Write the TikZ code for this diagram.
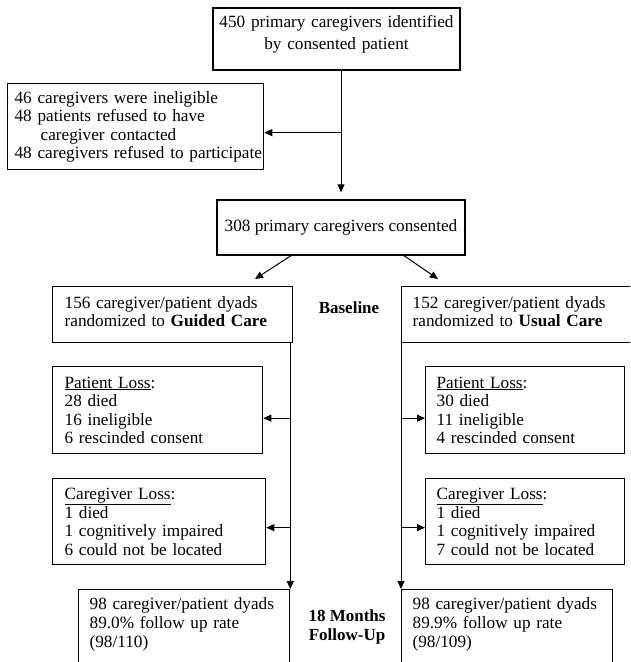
\documentclass[tikz,border=0pt]{standalone}
\usepackage{fontspec}
\setmainfont{Liberation Serif}
\usetikzlibrary{arrows.meta}

\begin{document}
\begin{tikzpicture}[x=1pt, y=-1pt,
	box/.style={draw, line width=1.3pt, align=left, inner ysep=0pt, font=\fontsize{17.2}{18.5}\selectfont},
	phase/.style={align=center, font=\fontsize{17}{19}\selectfont\bfseries},
	arr/.style={line width=1pt, -{Triangle[length=8pt, width=7pt]}}]
	\useasboundingbox (0,0) rectangle (630,662);
	\clip (0,0) rectangle (630,662);
	\node[box, align=center, inner xsep=0pt, text width=247pt, minimum height=62pt, text depth=36pt, font=\fontsize{17.2}{22}\selectfont] (ident) at (336.5,39) {450 primary caregivers identified\\by consented patient};
	\node[box, anchor=north west, inner xsep=7pt, text width=242pt, minimum height=86pt] (excl) at (7,83) {46 caregivers were ineligible\\48 patients refused to have\\\hspace*{26pt}caregiver contacted\\\mbox{48 caregivers refused to participate}};
	\node[box, align=center, inner xsep=0pt, minimum width=248pt, minimum height=55pt] (cons) at (341,227.5) {308 primary caregivers consented};
	\node[box, anchor=north west, inner xsep=12pt, text width=216pt, minimum height=56pt, text depth=25pt] (gc) at (52,286) {156 caregiver/patient dyads\\randomized to \textbf{Guided Care}};
	\node[box, anchor=north west, inner xsep=11pt, text width=238pt, minimum height=56pt, text depth=25pt] (uc) at (401,286) {152 caregiver/patient dyads\\randomized to \textbf{Usual Care}};
	\node[phase] (base) at (349,308) {Baseline};
	\node[box, anchor=north west, inner xsep=12pt, text width=186pt, minimum height=87pt] (gpl) at (52,366) {\underline{Patient Loss}:\\28 died\\16 ineligible\\6 rescinded consent};
	\node[box, anchor=north west, inner xsep=11pt, text width=177pt, minimum height=87pt] (upl) at (425,366) {\underline{Patient Loss}:\\30 died\\11 ineligible\\4 rescinded consent};
	\node[box, anchor=north west, inner xsep=12pt, text width=189pt, minimum height=86pt] (gcl) at (52,478) {\underline{Caregiver Loss}:\\1 died\\1 cognitively impaired\\6 could not be located};
	\node[box, anchor=north west, inner xsep=11pt, text width=177pt, minimum height=86pt] (ucl) at (425,478) {\underline{Caregiver Loss}:\\1 died\\1 cognitively impaired\\7 could not be located};
	\node[box, anchor=north west, inner xsep=11pt, inner ysep=8pt, text width=189pt, text depth=90pt, font=\fontsize{17.2}{19}\selectfont] (gfu) at (78,589) {\mbox{98 caregiver/patient dyads}\\89.0\% follow up rate\\(98/110)};
	\node[box, anchor=north west, inner xsep=11pt, inner ysep=8pt, text width=189pt, text depth=90pt, font=\fontsize{17.2}{19}\selectfont] (ufu) at (401,589) {\mbox{98 caregiver/patient dyads}\\89.9\% follow up rate\\(98/109)};
	\node[phase] (fu) at (347,626.5) {18 Months\\Follow-Up};
	\coordinate (exclin) at ([yshift=-6pt]excl.east);
	\coordinate (gtip) at (255,279);
	\coordinate (utip) at (438,279);
	\coordinate (gplin) at ([yshift=-8pt]gpl.east);
	\coordinate (uplin) at ([yshift=-8pt]upl.west);
	\coordinate (gclin) at ([yshift=-6pt]gcl.east);
	\coordinate (uclin) at ([yshift=-6pt]ucl.west);
	\draw[arr, shorten >=7pt] (ident.south -| cons.north) -- (cons.north);
	\draw[arr] (exclin -| cons.north) -- (exclin);
	\draw[arr] ([xshift=-50pt]cons.south) -- (gtip);
	\draw[arr] ([xshift=63pt]cons.south) -- (utip);
	\draw[arr] (gc.south -| gfu.north east) -- (gfu.north east);
	\draw[arr] (uc.south west) -- (ufu.north west);
	\draw[arr] (gplin -| gfu.north east) -- (gplin);
	\draw[arr] (uplin -| uc.south west) -- (uplin);
	\draw[arr] (gclin -| gfu.north east) -- (gclin);
	\draw[arr] (uclin -| uc.south west) -- (uclin);
\end{tikzpicture}
\end{document}
